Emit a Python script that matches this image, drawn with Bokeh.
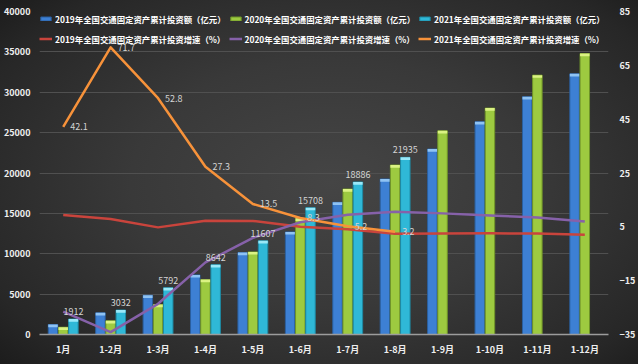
from bokeh.plotting import figure
from bokeh.models import (ColumnDataSource, FactorRange, Range1d, LinearAxis,
                          FixedTicker, Legend, LegendItem)
from bokeh.transform import dodge
from bokeh.core.properties import value
from bokeh.embed import file_html
from bokeh.resources import INLINE

# ---------------- data ----------------
months = ["1月", "1-2月", "1-3月", "1-4月", "1-5月", "1-6月",
          "1-7月", "1-8月", "1-9月", "1-10月", "1-11月", "1-12月"]
inv_2019 = [1240, 2680, 4860, 7380, 10140, 12700, 16370, 19260, 22970, 26350, 29440, 32280]
inv_2020 = [900, 1700, 3710, 6800, 10230, 14390, 18020, 20990, 25230, 28040, 32120, 34790]
inv_2021 = [1912, 3032, 5792, 8642, 11607, 15708, 18886, 21935]
growth_2019 = [9.4, 7.9, 4.8, 7.3, 7.2, 5.0, 4.1, 2.4, 2.5, 2.6, 2.5, 2.1]
growth_2020 = [-26.5, -34.1, -23.6, -8.2, 0.9, 6.7, 9.5, 10.6, 10.0, 9.2, 8.5, 7.0]
growth_2021 = [42.1, 71.7, 52.8, 27.3, 13.5, 8.3, 5.2, 3.2]

left_ticks = [0, 5000, 10000, 15000, 20000, 25000, 30000, 35000, 40000]
right_ticks = [-35, -15, 5, 25, 45, 65, 85]

names_bar = ["2019年全国交通固定资产累计投资额（亿元）",
             "2020年全国交通固定资产累计投资额（亿元）",
             "2021年全国交通固定资产累计投资额（亿元）"]
names_line = ["2019年全国交通固定资产累计投资增速（%）",
              "2020年全国交通固定资产累计投资增速（%）",
              "2021年全国交通固定资产累计投资增速（%）"]

# ---------------- styles ----------------
FONT = "Noto Sans CJK SC"
C_BLUE, C_BLUE_E, C_BLUE_T = "#3d80d4", "#2a5f9f", "#8fc3f3"
C_GREEN, C_GREEN_E, C_GREEN_T = "#9dca40", "#6f9428", "#dbf283"
C_CYAN, C_CYAN_E, C_CYAN_T = "#2fb8d7", "#1e8aa4", "#9ae8f8"
C_RED, C_PURPLE, C_ORANGE = "#c9443c", "#8661a9", "#f7923a"
BAR_W = 0.2
OFF = 0.215
CAP = 330  # cap thickness in data units (~3px)

n21 = len(inv_2021)
src = ColumnDataSource(dict(
    m=months, a=inv_2019, b=inv_2020,
    a_cap=[v - CAP for v in inv_2019], b_cap=[v - CAP for v in inv_2020],
    g19=growth_2019, g20=growth_2020))
src21 = ColumnDataSource(dict(
    m=months[:n21], c=inv_2021, c_cap=[v - CAP for v in inv_2021],
    g21=growth_2021, ctext=[str(v) for v in inv_2021],
    gtext=[str(v) for v in growth_2021]))

p = figure(width=638, height=364, x_range=FactorRange(*months, range_padding=0),
           y_range=Range1d(0, 40000), output_backend="svg", toolbar_location=None,
           min_border_left=37, min_border_right=28, min_border_top=11, min_border_bottom=30)
p.extra_y_ranges = {"pct": Range1d(-35, 85)}

p.border_fill_color = None
p.background_fill_color = None
p.outline_line_color = None
p.styles = {"background": "radial-gradient(ellipse 70% 75% at 52% 50%, #454545 0%, #393939 45%, #272727 85%, #1c1c1c 100%)"}

# bars
rb1 = p.vbar(x=dodge("m", -OFF, range=p.x_range), top="a", width=BAR_W, source=src,
             fill_color=C_BLUE, line_color=C_BLUE_E, line_width=1)
p.vbar(x=dodge("m", -OFF, range=p.x_range), top="a", bottom="a_cap", width=BAR_W, source=src,
       fill_color=C_BLUE_T, line_color=None)
rb2 = p.vbar(x=dodge("m", 0, range=p.x_range), top="b", width=BAR_W, source=src,
             fill_color=C_GREEN, line_color=C_GREEN_E, line_width=1)
p.vbar(x=dodge("m", 0, range=p.x_range), top="b", bottom="b_cap", width=BAR_W, source=src,
       fill_color=C_GREEN_T, line_color=None)
rb3 = p.vbar(x=dodge("m", OFF, range=p.x_range), top="c", width=BAR_W, source=src21,
             fill_color=C_CYAN, line_color=C_CYAN_E, line_width=1)
p.vbar(x=dodge("m", OFF, range=p.x_range), top="c", bottom="c_cap", width=BAR_W, source=src21,
       fill_color=C_CYAN_T, line_color=None)

# lines
rl1 = p.line(x="m", y="g19", source=src, y_range_name="pct", line_color=C_RED,
             line_width=2.5, line_join="round")
rl2 = p.line(x="m", y="g20", source=src, y_range_name="pct", line_color=C_PURPLE,
             line_width=2.5, line_join="round")
rl3 = p.line(x="m", y="g21", source=src21, y_range_name="pct", line_color=C_ORANGE,
             line_width=2.5, line_join="round")

# data labels
p.text(x=dodge("m", OFF, range=p.x_range), y="c", text="ctext", source=src21,
       text_font=value(FONT), text_font_size="9px", text_color="#d4d4d4",
       text_align="center", text_baseline="bottom", y_offset=-4)
p.text(x="m", y="g21", text="gtext", source=src21, y_range_name="pct",
       text_font=value(FONT), text_font_size="9px", text_color="#d4d4d4",
       text_align="left", text_baseline="middle", x_offset=7)

# axes
tick_style = dict(major_label_text_font=FONT, major_label_text_font_size="9px",
                  major_label_text_font_style="bold", major_label_text_color="#eeeeee",
                  major_tick_line_color=None, minor_tick_line_color=None,
                  major_tick_out=0, major_tick_in=0, minor_tick_out=0, minor_tick_in=0)
p.yaxis.ticker = FixedTicker(ticks=left_ticks)
p.yaxis.axis_line_color = None
for k, v in tick_style.items():
    setattr(p.yaxis[0], k, v)
    setattr(p.xaxis[0], k, v)
p.yaxis.major_label_standoff = 9
p.xaxis.axis_line_color = "#9c9c9c"
p.xaxis.axis_line_width = 1.5
p.xaxis.major_label_standoff = 8

ra = LinearAxis(y_range_name="pct", ticker=FixedTicker(ticks=right_ticks),
                axis_line_color=None, major_label_standoff=11, **tick_style)
p.add_layout(ra, "right")

p.xgrid.grid_line_color = None
p.ygrid.grid_line_color = "#505050"
p.ygrid.grid_line_width = 1

legend = Legend(items=[LegendItem(label=names_bar[0], renderers=[rb1]),
                       LegendItem(label=names_bar[1], renderers=[rb2]),
                       LegendItem(label=names_bar[2], renderers=[rb3]),
                       LegendItem(label=names_line[0], renderers=[rl1]),
                       LegendItem(label=names_line[1], renderers=[rl2]),
                       LegendItem(label=names_line[2], renderers=[rl3])],
                orientation="horizontal", ncols=3, location=(0, 287),
                label_text_font=FONT, label_text_font_size="8.4px",
                label_text_font_style="bold", label_text_color="#ffffff",
                glyph_width=13, glyph_height=5, label_height=17, label_width=60,
                label_standoff=3, spacing=3, padding=0, margin=0,
                border_line_color=None, background_fill_alpha=0)
p.add_layout(legend, "center")

open("out.html", "w").write(file_html(p, INLINE))
